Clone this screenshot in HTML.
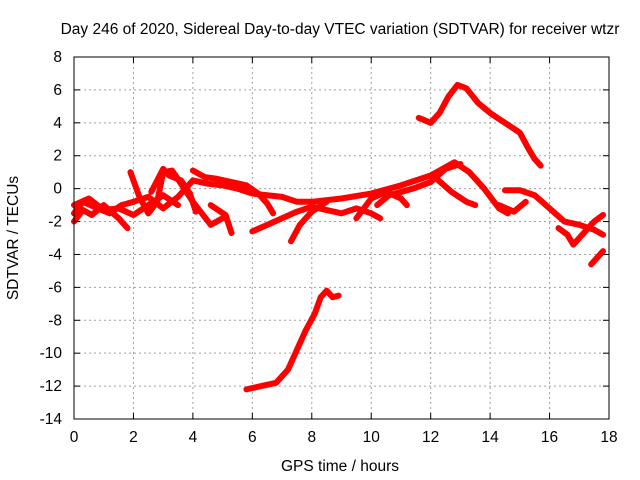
<!DOCTYPE html>
<html><head><meta charset="utf-8"><style>
body{margin:0;background:#fff}
svg{display:block;font-family:"Liberation Sans",sans-serif;font-size:15.5px}
</style></head><body>
<svg id="c" width="640" height="480">
<rect width="640" height="480" fill="#fff"/>
<g id="grid"></g>
<g id="data"></g>
<rect x="74" y="57" width="535" height="362" fill="none" stroke="#000" stroke-width="1"/>
<g id="axes"></g>
<text x="340" y="34" text-anchor="middle">Day 246 of 2020, Sidereal Day-to-day VTEC variation (SDTVAR) for receiver wtzr</text>
<text x="340" y="471" text-anchor="middle">GPS time / hours</text>
<text transform="translate(18,238) rotate(-90)" text-anchor="middle">SDTVAR / TECUs</text>
</svg>
<script>
const xTicks=[0,2,4,6,8,10,12,14,16,18];
const yTicks=[8,6,4,2,0,-2,-4,-6,-8,-10,-12,-14];
const track1=[[11.6,4.3],[12,4.0],[12.3,4.6],[12.6,5.6],[12.9,6.3],[13.2,6.1],[13.6,5.2],[14,4.6],[14.5,4.0],[15,3.4],[15.3,2.4],[15.5,1.8],[15.7,1.4]];
const track2=[[5.8,-12.2],[6.3,-12.0],[6.8,-11.8],[7.2,-11],[7.5,-9.8],[7.8,-8.6],[8.1,-7.6],[8.3,-6.6],[8.5,-6.2],[8.7,-6.6],[8.9,-6.5]];
const track3=[[0,-1.5],[0.3,-0.8],[0.8,-1.2],[1.2,-1.5],[1.6,-1.0],[2,-0.8],[2.5,-0.5],[3,-1.2],[3.5,-0.5],[4,0.5],[4.5,0.3],[5,0.2],[5.5,0],[6,-0.3],[6.5,-0.4],[7,-0.5],[7.5,-0.8],[8,-0.8],[9,-0.6],[10,-0.3],[11,0.2],[12,0.8],[12.8,1.6],[13.3,1.0],[13.8,0],[14.3,-1.2],[14.6,-1.5]];
const track4=[[0,-2],[0.3,-1.3],[0.6,-1.6],[1.0,-1.0],[1.5,-1.8],[1.8,-2.4]];
const track5=[[1.9,1.0],[2.2,-0.5],[2.5,-1.5],[2.8,-0.8],[3,1.0],[3.3,1.1],[3.6,0.3],[4,-0.8],[4.3,-1.5],[4.6,-2.2],[5,-1.8]];
const track6=[[2.6,-0.2],[3.0,1.2],[3.2,0.8],[3.6,0.5],[3.9,-0.3],[4.1,-1.4]];
const track7=[[4,1.1],[4.4,0.7],[4.8,0.6],[5.3,0.4],[5.8,0.2],[6.2,-0.3],[6.5,-0.9],[6.7,-1.5]];
const track8=[[6.0,-2.6],[6.5,-2.2],[7,-1.8],[7.5,-1.4],[8,-1.1],[8.5,-1.3],[9,-1.5],[9.5,-1.2],[10,-1.5],[10.3,-1.8]];
const track9=[[7.3,-3.2],[7.6,-2.2],[8,-1.4],[8.5,-0.8]];
const track10=[[12.2,0.6],[12.7,-0.2],[13.2,-0.8],[13.5,-1.0]];
const track11=[[14.5,-0.1],[15,-0.1],[15.5,-0.4],[16,-1.2],[16.5,-2.0],[17,-2.2],[17.5,-2.5],[17.8,-2.8]];
const track12=[[16.3,-2.4],[16.6,-2.8],[16.8,-3.4],[17,-3.0],[17.3,-2.4],[17.5,-2.0],[17.8,-1.6]];
const track13=[[17.4,-4.6],[17.6,-4.2],[17.8,-3.8]];
const track14=[[14.3,-1.0],[14.8,-1.4],[15.2,-0.8]];
const track15=[[10.2,-1.0],[10.6,-0.4],[11,-0.2],[11.4,0],[12,0.4],[12.5,1.2],[13,1.5]];
const track16=[[9.5,-1.8],[10,-0.6],[10.5,-0.2],[11,-0.6],[11.2,-1.0]];
const track17=[[4.6,-1.0],[5.1,-1.6],[5.3,-2.7]];
const track18=[[0,-1.0],[0.5,-0.6],[1,-1.3],[1.5,-1.2],[2,-1.6],[2.5,-1.0],[3,-0.4],[3.5,-1.0]];
const tracks=[track1,track2,track3,track4,track5,track6,track7,track8,track9,track10,track11,track12,track13,track14,track15,track16,track17,track18];
const NS='http://www.w3.org/2000/svg';
const X=h=>74+h*535/18, Y=v=>57+(8-v)*362/22;
const grid=document.getElementById('grid'),axes=document.getElementById('axes'),data=document.getElementById('data');
function mk(tag,attrs,parent){const e=document.createElementNS(NS,tag);for(const k in attrs)e.setAttribute(k,attrs[k]);parent.appendChild(e);return e;}
xTicks.forEach(t=>{const x=X(t);
 if(t>0&&t<18){const l=mk('line',{x1:x,x2:x,y1:57,y2:419,stroke:'#a0a0a0','stroke-dasharray':'2,3'},grid);}
 const a=mk('line',{x1:x,x2:x,y1:419,y2:413,stroke:'#000'},axes);
 const b=mk('line',{x1:x,x2:x,y1:57,y2:63,stroke:'#000'},axes);
 const tx=mk('text',{x:x,y:442,'text-anchor':'middle'},axes);tx.textContent=t;});
yTicks.forEach(t=>{const y=Y(t);
 if(t<8&&t>-14){const l=mk('line',{x1:74,x2:609,y1:y,y2:y,stroke:'#a0a0a0','stroke-dasharray':'2,3'},grid);}
 const a=mk('line',{x1:74,x2:80,y1:y,y2:y,stroke:'#000'},axes);
 const b=mk('line',{x1:603,x2:609,y1:y,y2:y,stroke:'#000'},axes);
 const tx=mk('text',{x:62,y:y+5,'text-anchor':'end'},axes);tx.textContent=t;});
tracks.forEach((tr)=>{const p=mk('polyline',{points:tr.map(d=>X(d[0])+','+Y(d[1])).join(' '),fill:'none',stroke:'#ff0000','stroke-width':6,'stroke-linejoin':'round','stroke-linecap':'round'},data);
 
 });
</script>
</body></html>
